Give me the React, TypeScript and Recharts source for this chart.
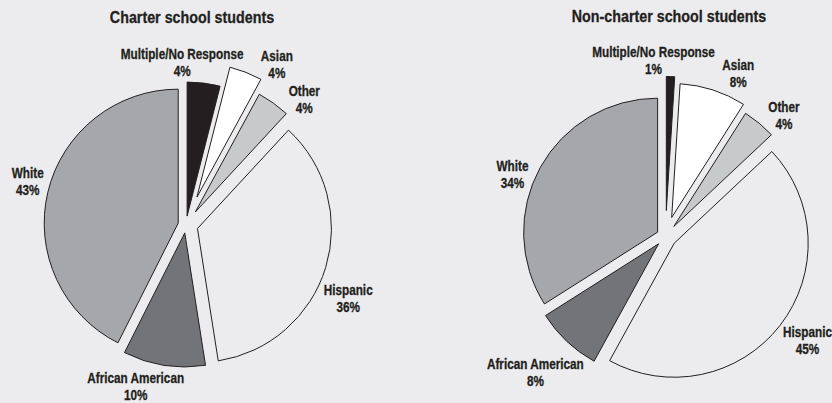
import React from 'react';
import { PieChart, Pie, Sector } from 'recharts';

// ---- data ----
const categories = ['Multiple/No Response', 'Asian', 'Other', 'Hispanic', 'African American', 'White'];
const charterValues = [4, 4, 4, 36, 10, 43];
const nonCharterValues = [1, 8, 4, 45, 8, 34];
const titles = ['Charter school students', 'Non-charter school students'];

// ---- styles ----
const BG = '#ececee';
const INK = '#231f20';
const sliceColors = ['#231f20', '#ffffff', '#c8c9cb', '#ececee', '#737477', '#a6a7aa'];
const charterExplode = [9, 30, 16, 12, 8, 8];
const nonCharterExplode = [26, 20, 13, 11, 10, 9];
const charterLabelR = [162, 184, 172, 178, 169, 164];
const charterLabelShift = [8.5, -8.2, -7.8, -7.4, -8.4, -1.8];
const nonCharterLabelR = [176, 178, 169, 176, 188, 165];
const nonCharterLabelShift = [5.7, -6.1, -4.9, 1.6, -0.6, 6.8];
const FONT = '"Liberation Sans", Arial, sans-serif';
const NARROW = 0.84;
const RAD = Math.PI / 180;

const makeRows = (values: number[]) =>
  categories.map((name, i) => ({ name, value: values[i], fill: sliceColors[i] }));

const charterRows = makeRows(charterValues);
const nonCharterRows = makeRows(nonCharterValues);

const idxOf = (p: any) => {
  const n = p?.payload?.name ?? p?.name;
  const i = categories.indexOf(n);
  return i >= 0 ? i : p?.index ?? 0;
};

const makeShape = (explode: number[]) => (props: any) => {
  const i = idxOf(props);
  const d = explode[i];
  const a = props.midAngle * RAD;
  return (
    <Sector
      cx={props.cx + d * Math.cos(a)}
      cy={props.cy - d * Math.sin(a)}
      innerRadius={0}
      outerRadius={props.outerRadius}
      startAngle={props.startAngle}
      endAngle={props.endAngle}
      fill={sliceColors[i]}
      stroke={INK}
      strokeWidth={1}
    />
  );
};

const makeLabel = (radii: number[], shifts: number[]) => (props: any) => {
  const i = idxOf(props);
  const a = (props.midAngle + shifts[i]) * RAD;
  const x = props.cx + radii[i] * Math.cos(a);
  const y = props.cy - radii[i] * Math.sin(a);
  return (
    <text
      transform={`translate(${x},${y}) scale(${NARROW},1)`}
      textAnchor="middle"
      fill={INK}
      stroke={INK}
      strokeWidth={0.3}
      style={{ fontFamily: FONT, fontWeight: 700, fontSize: 14 }}
    >
      <tspan x={0} y={-8.5} dominantBaseline="central">{categories[i]}</tspan>
      <tspan x={0} y={8.5} dominantBaseline="central">{`${props.value}%`}</tspan>
    </text>
  );
};

const charterShape = makeShape(charterExplode);
const nonCharterShape = makeShape(nonCharterExplode);

const titleStyle: React.CSSProperties = {
  position: 'absolute',
  transform: `translate(-50%, -50%) scaleX(${NARROW})`,
  fontFamily: FONT,
  fontWeight: 700,
  fontSize: 17,
  lineHeight: '20px',
  color: INK,
  WebkitTextStroke: `0.3px ${INK}`,
  whiteSpace: 'nowrap',
};

export default function App() {
  return (
    <div style={{ position: 'absolute', left: 0, top: 0, width: 832, height: 403, background: BG, overflow: 'hidden' }}>
      <div style={{ ...titleStyle, left: 191.5, top: 18 }}>{titles[0]}</div>
      <div style={{ ...titleStyle, left: 668.7, top: 17 }}>{titles[1]}</div>
      <PieChart width={832} height={403} margin={{ top: 0, right: 0, bottom: 0, left: 0 }}>
        <Pie
          data={charterRows}
          dataKey="value"
          nameKey="name"
          cx={186}
          cy={225}
          outerRadius={134}
          startAngle={90}
          endAngle={-270}
          isAnimationActive={false}
          labelLine={false}
          label={makeLabel(charterLabelR, charterLabelShift)}
          shape={charterShape}
          activeShape={charterShape}
          inactiveShape={charterShape}
        />
        <Pie
          data={nonCharterRows}
          dataKey="value"
          nameKey="name"
          cx={665.5}
          cy={236.5}
          outerRadius={134}
          startAngle={90}
          endAngle={-270}
          isAnimationActive={false}
          labelLine={false}
          label={makeLabel(nonCharterLabelR, nonCharterLabelShift)}
          shape={nonCharterShape}
          activeShape={nonCharterShape}
          inactiveShape={nonCharterShape}
        />
      </PieChart>
    </div>
  );
}
